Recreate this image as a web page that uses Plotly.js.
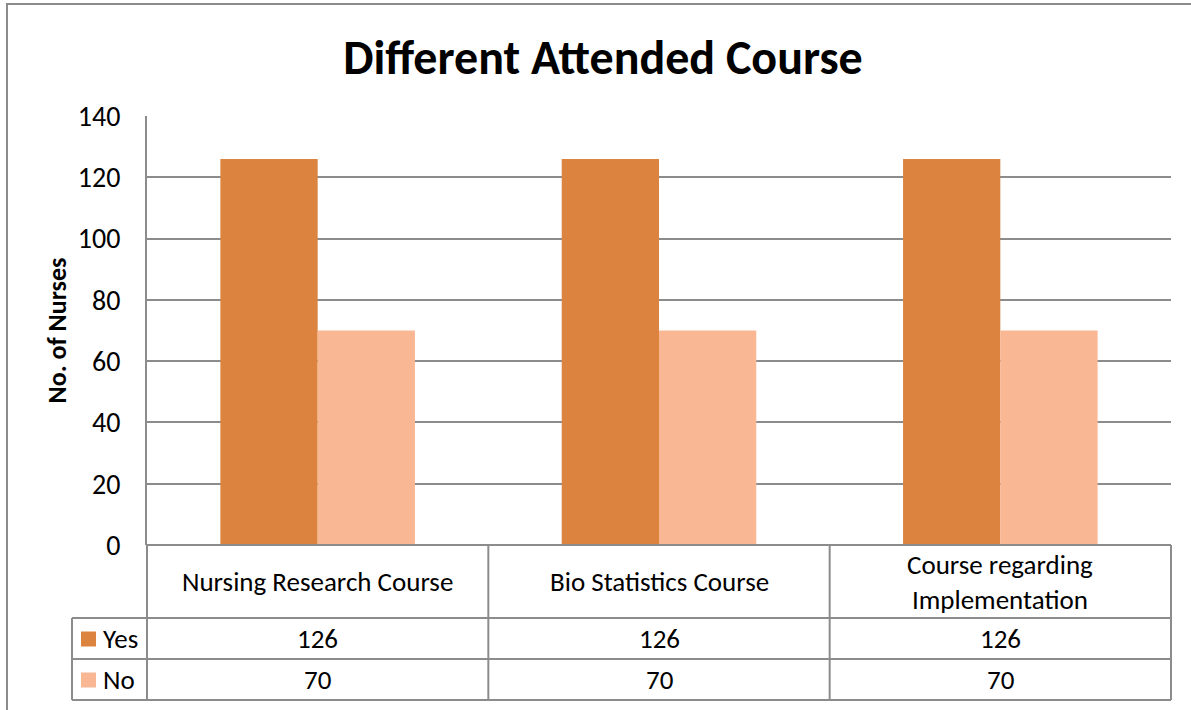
<!DOCTYPE html>
<html>
<head>
<meta charset="utf-8">
<script src="https://cdn.plot.ly/plotly-3.0.1.min.js"></script>
<style>html,body{margin:0;padding:0;background:#fff;}#chart{width:1191px;height:710px;}</style>
</head>
<body>
<div id="chart"></div>
<script>
const categories = ["Nursing Research Course", "Bio Statistics Course", "Course regarding<br>Implementation"];
const seriesNames = ["Yes", "No"];
const yesValues = [126, 126, 126];
const noValues = [70, 70, 70];
const seriesColors = ["#DC843F", "#F9B794"];
const chartTitle = "Different Attended Course";
const yTitle = "No. of Nurses";

const FONT = "Carlito, Lato, 'Open Sans', sans-serif";
const W = 1191, H = 710;
const L = 147, R = 20, T = 116, B = 165;
const pw = W - L - R, ph = H - T - B;
const px = v => (v - L) / pw;          // pixel x -> paper x
const py = v => (H - B - v) / ph;      // pixel y -> paper y

const series = [yesValues, noValues];
const traces = series.map((vals, i) => ({
  type: "bar",
  name: seriesNames[i],
  x: categories,
  y: vals,
  marker: {color: seriesColors[i]},
  hoverinfo: "x+y+name"
}));

const lineColor = "#8c8c8c";
const shapes = [];
const ln = (x0, y0, x1, y1) => shapes.push({type: "line", xref: "paper", yref: "paper",
  x0: x0, y0: y0, x1: x1, y1: y1, line: {color: lineColor, width: 2}});

// outer chart border
shapes.push({type: "rect", xref: "paper", yref: "paper", x0: px(7), y0: py(4), x1: px(1200), y1: py(720),
  line: {color: "#8c8c8c", width: 2}, fillcolor: "rgba(0,0,0,0)", layer: "below"});

// data table geometry
const rowTops = [545, 618, 659, 700];
const legendLeft = 72;
const n = categories.length;
ln(0, py(545), 1, py(545));
ln(px(legendLeft), py(618), 1, py(618));
ln(px(legendLeft), py(659), 1, py(659));
ln(px(legendLeft), py(700), 1, py(700));
for (let k = 0; k <= n; k++) ln(k / n, py(545), k / n, py(700));
ln(px(legendLeft), py(618), px(legendLeft), py(700));

const annotations = [];
const tfont = {family: FONT, size: 27, color: "#000"};
categories.forEach((c, k) => {
  annotations.push({xref: "paper", yref: "paper", x: (k + 0.5) / n, y: py((545 + 618) / 2),
    text: c, showarrow: false, font: tfont, xanchor: "center", yanchor: "middle"});
  series.forEach((vals, i) => {
    annotations.push({xref: "paper", yref: "paper", x: (k + 0.5) / n, y: py((rowTops[i + 1] + rowTops[i + 2]) / 2),
      text: String(vals[k]), showarrow: false, font: tfont, xanchor: "center", yanchor: "middle"});
  });
});
seriesNames.forEach((s, i) => {
  const yc = (rowTops[i + 1] + rowTops[i + 2]) / 2;
  shapes.push({type: "rect", xref: "paper", yref: "paper",
    x0: px(81), x1: px(96), y0: py(yc - 7), y1: py(yc + 8),
    fillcolor: seriesColors[i], line: {width: 0}});
  annotations.push({xref: "paper", yref: "paper", x: px(101), y: py(yc),
    text: s, showarrow: false, font: tfont, xanchor: "left", yanchor: "middle"});
});

const layout = {
  width: W, height: H,
  margin: {l: L, r: R, t: T, b: B},
  paper_bgcolor: "#fff", plot_bgcolor: "#fff",
  title: {text: "<b>" + chartTitle + "</b>", font: {family: FONT, size: 48, color: "#000"},
    x: 603 / W, xref: "container", xanchor: "center", y: 1 - 57 / H, yanchor: "middle"},
  showlegend: false,
  barmode: "group",
  bargap: 0.43,
  bargroupgap: 0,
  xaxis: {type: "category", showticklabels: false, ticks: "", showgrid: false,
    showline: false, zeroline: false, fixedrange: true},
  yaxis: {range: [0, 140], dtick: 20, tick0: 0, showgrid: true, gridcolor: "#8c8c8c", gridwidth: 2,
    zeroline: false, showline: true, linecolor: "#8c8c8c", linewidth: 2, ticks: "",
    ticklabelstandoff: 19,
    tickfont: {family: FONT, size: 28, color: "#000"},
    title: {text: "<b>" + yTitle + "</b>", font: {family: FONT, size: 26, color: "#000"}, standoff: 4}},
  shapes: shapes,
  annotations: annotations,
  font: {family: FONT}
};

Plotly.newPlot("chart", traces, layout, {displayModeBar: false});
</script>
</body>
</html>
